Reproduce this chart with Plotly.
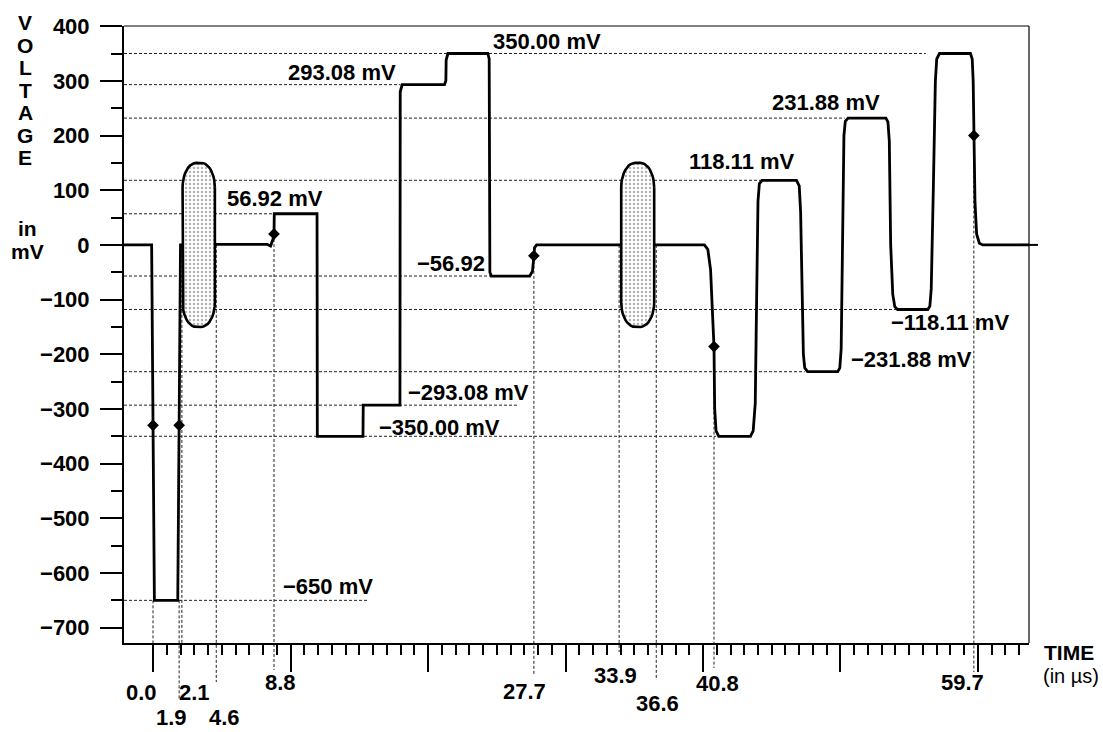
import plotly.graph_objects as go

# ---------------- data ----------------
wave_t = [-2.11, -0.10, 0.10, 1.80, 2.00, 4.50, 8.30, 8.55, 8.75, 8.80, 8.82,
          11.93, 11.95, 15.27, 15.29, 17.96, 17.98, 18.12, 21.20, 21.30, 21.32, 21.45,
          24.35, 24.45, 24.50, 24.60, 27.40, 27.60, 27.70, 27.75, 27.90,
          40.10, 40.35, 40.55, 40.70, 40.80, 40.85, 40.95, 41.15,
          43.45, 43.65, 43.80, 43.90, 44.00, 44.10, 44.30,
          46.80, 47.00, 47.10, 47.20, 47.30, 47.40, 47.60,
          49.80, 49.95, 50.05, 50.15, 50.25, 50.35, 50.55,
          53.30, 53.45, 53.55, 53.65, 53.80, 53.95, 54.15,
          56.35, 56.50, 56.60, 56.75, 56.90, 57.00, 57.20,
          59.45, 59.58, 59.65, 59.70, 59.78, 59.90, 60.10, 60.35, 63.71]
wave_v = [0, 0, -650, -650, 0, 1, 1, -2, 12, 20, 56.92,
          56.92, -350, -350, -293.08, -293.08, 280, 293.08, 293.08, 300, 338, 350,
          350, 340, -50, -56.92, -56.92, -48, -20, -5, 0,
          0, -8, -45, -130, -186, -300, -340, -350,
          -350, -340, -290, -100, 80, 112, 118.11,
          118.11, 108, 60, -100, -200, -225, -231.88,
          -231.88, -225, -190, 0, 200, 226, 231.88,
          231.88, 225, 190, 0, -90, -113, -118.11,
          -118.11, -112, -80, 100, 300, 340, 350,
          350, 340, 300, 200, 80, 20, 3, 0, 0]

marker_t = [0.0, 1.9, 8.8, 27.7, 40.8, 59.7]
marker_v = [-330, -330, 20, -20, -186, 200]

level_values = [350.00, 293.08, 231.88, 118.11, 56.92, -56.92,
                -118.11, -231.88, -293.08, -350.00, -650]
level_ends = [56.2, 18.0, 50.3, 44.3, 8.8, 24.5, 54.1, 47.4, 26.5, 40.95, 15.6]
level_labels = ["350.00 mV", "293.08 mV", "231.88 mV", "118.11 mV", "56.92 mV",
                "\u221256.92", "\u2212118.11 mV", "\u2212231.88 mV",
                "\u2212293.08 mV", "\u2212350.00 mV", "\u2212650 mV"]

time_marks = [0.0, 1.9, 2.1, 4.6, 8.8, 27.7, 33.9, 36.6, 40.8, 59.7]
time_labels = ["0.0", "1.9", "2.1", "4.6", "8.8", "27.7", "33.9", "36.6", "40.8", "59.7"]
time_guide_top = [-650, -650, 0, 0, 20, -20, 0, 0, -186, 200]

shaded_t = [(2.15, 4.5), (34.05, 36.45)]
shaded_v = (-150, 150)

y_tick_vals = list(range(-700, 401, 100))

# ---------------- layout geometry / styles ----------------
W, H = 1103, 732
ML, MR, MT, MB = 124, 74, 26, 89
PW, PH = W - ML - MR, H - MT - MB
T0, T1 = -2.11, 63.71
V0, V1 = -728, 400.3
FONT = "Liberation Sans, Arial, Helvetica, sans-serif"
FS = 22


def paper_y_px(px):
    return (H - MB - px) / PH


def paper_x_px(px):
    return (px - ML) / PW


def paper_y_val(v):
    return (v - V0) / (V1 - V0)


def bold(size=FS):
    return dict(family=FONT, size=size, color="black", weight="bold")


# label placements (position of each text; style only)
level_label_pos = [(24.6, 372, "left"), (17.8, 315, "right"), (53.0, 260, "right"),
                   (38.8, 152, "left"), (5.2, 85, "left"), (24.3, -34, "right"),
                   (53.5, -141, "left"), (50.6, -210, "left"), (18.4, -270, "left"),
                   (16.3, -334, "left"), (9.3, -625, "left")]
time_label_pos = [(-12, 692), (-8, 717), (13, 692), (8, 717), (6, 682),
                  (-9, 691), (-4, 675), (1, 703), (3, 683), (-11, 682)]
time_guide_bottom_px = [643, 700, 643, 682, 670, 675, 652, 680, 668, 672]

fig = go.Figure()

# waveform
fig.add_trace(go.Scatter(x=wave_t, y=wave_v, mode="lines",
                         line=dict(color="black", width=2.8), hoverinfo="skip",
                         showlegend=False))


# shaded rounded regions
def rounded_box(ta, tb, va, vb, rt, rv, n=10):
    import math
    xs, ys = [], []
    corners = [(tb - rt, vb - rv, 0), (ta + rt, vb - rv, 90),
               (ta + rt, va + rv, 180), (tb - rt, va + rv, 270)]
    for cx, cy, a0 in corners:
        for k in range(n + 1):
            a = math.radians(a0 + 90 * k / n)
            xs.append(cx + rt * math.cos(a))
            ys.append(cy + rv * math.sin(a))
    xs.append(xs[0])
    ys.append(ys[0])
    return xs, ys


for ta, tb in shaded_t:
    bx, by = rounded_box(ta, tb, shaded_v[0], shaded_v[1], (tb - ta) * 0.42, 45)
    fig.add_trace(go.Scatter(x=bx, y=by, mode="lines", fill="toself",
                             fillcolor="white",
                             fillpattern=dict(shape=".", fgcolor="#666666",
                                              bgcolor="white", size=4, solidity=0.3),
                             line=dict(color="black", width=2.6),
                             hoverinfo="skip", showlegend=False))

# markers
fig.add_trace(go.Scatter(x=marker_t, y=marker_v, mode="markers",
                         marker=dict(color="black", size=9, symbol="diamond"),
                         hoverinfo="skip", showlegend=False))

shapes = []
dash = "3px,2px"
# horizontal guides
for v, te in zip(level_values, level_ends):
    shapes.append(dict(type="line", xref="x", yref="y", x0=T0, x1=te, y0=v, y1=v,
                       line=dict(color="#222222", width=1, dash=dash), layer="below"))
# vertical guides
for t, vt, pb in zip(time_marks, time_guide_top, time_guide_bottom_px):
    shapes.append(dict(type="line", xref="x", yref="paper", x0=t, x1=t,
                       y0=paper_y_val(vt), y1=paper_y_px(pb),
                       line=dict(color="#222222", width=1, dash=dash), layer="below"))
# frame top and right
shapes.append(dict(type="line", xref="paper", yref="paper", x0=0, x1=1, y0=1, y1=1,
                   line=dict(color="black", width=1.2)))
shapes.append(dict(type="line", xref="paper", yref="paper", x0=1, x1=1, y0=0, y1=1,
                   line=dict(color="black", width=1.2)))
# zero line running just past the frame
shapes.append(dict(type="line", xref="paper", yref="y", x0=0.99, x1=paper_x_px(1038),
                   y0=0, y1=0, line=dict(color="black", width=2)))

annotations = []
for text, (t, v, xa) in zip(level_labels, level_label_pos):
    annotations.append(dict(x=t, y=v, xref="x", yref="y", text=text, showarrow=False,
                            xanchor=xa, yanchor="middle", font=bold()))
for t, lab, (dx, ypx) in zip(time_marks, time_labels, time_label_pos):
    annotations.append(dict(x=t, y=paper_y_px(ypx), xref="x", yref="paper", text=lab,
                            showarrow=False, xanchor="center", yanchor="middle",
                            xshift=dx, font=bold()))
# axis titles
for i, ch in enumerate("VOLTAGE"):
    annotations.append(dict(x=paper_x_px(25), y=paper_y_px(23 + 22.4 * i), xref="paper",
                            yref="paper", text=ch, showarrow=False, xanchor="center",
                            yanchor="middle", font=bold(21)))
annotations.append(dict(x=paper_x_px(27), y=paper_y_px(229), xref="paper", yref="paper",
                        text="in", showarrow=False, xanchor="center", yanchor="middle",
                        font=bold(21)))
annotations.append(dict(x=paper_x_px(27), y=paper_y_px(251), xref="paper", yref="paper",
                        text="mV", showarrow=False, xanchor="center", yanchor="middle",
                        font=bold(21)))
annotations.append(dict(x=paper_x_px(1042), y=paper_y_px(652), xref="paper", yref="paper",
                        text="TIME", showarrow=False, xanchor="left", yanchor="middle",
                        font=bold(21)))
annotations.append(dict(x=paper_x_px(1041), y=paper_y_px(676), xref="paper", yref="paper",
                        text="(in \u00b5s)", showarrow=False, xanchor="left", yanchor="middle",
                        font=dict(family=FONT, size=20, color="black")))

minor_x = [k for k in range(1, 64) if k % 10 != 0]

fig.update_layout(
    width=W, height=H, autosize=False,
    margin=dict(l=ML, r=MR, t=MT, b=MB, pad=0),
    paper_bgcolor="white", plot_bgcolor="rgba(0,0,0,0)",
    shapes=shapes, annotations=annotations, showlegend=False,
    xaxis=dict(range=[T0, T1], showgrid=False, zeroline=False, showline=True,
               linecolor="black", linewidth=2, ticks="outside",
               tickmode="array", tickvals=[0, 10, 20, 30, 40, 50, 60],
               ticklen=27, tickwidth=1.5, tickcolor="black", showticklabels=False,
               minor=dict(tickmode="array", tickvals=minor_x, ticks="outside",
                          ticklen=10, tickwidth=1.5, tickcolor="black", showgrid=False)),
    yaxis=dict(range=[V0, V1], showgrid=False, zeroline=False, showline=True,
               linecolor="black", linewidth=2, ticks="outside",
               tickmode="array", tickvals=y_tick_vals,
               ticklen=22, tickwidth=1.5, tickcolor="black", ticklabelstandoff=6,
               tickfont=bold(),
               minor=dict(tickmode="array", tickvals=[v + 50 for v in y_tick_vals[:-1]],
                          ticks="outside", ticklen=11, tickwidth=1.5, tickcolor="black",
                          showgrid=False)),
)

fig.write_html("out.html", config={"displayModeBar": False},
               post_script="document.body.style.margin='0';")
